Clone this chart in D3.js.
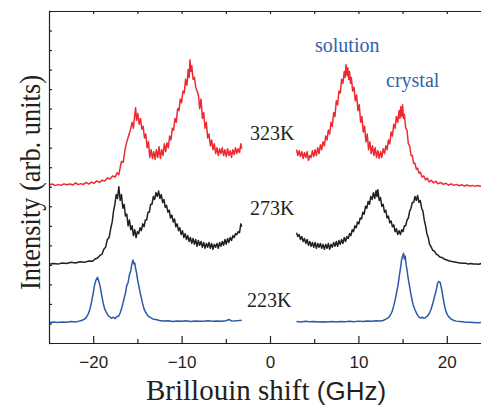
<!DOCTYPE html>
<html>
<head>
<meta charset="utf-8">
<script src="https://cdn.jsdelivr.net/npm/d3@7"></script>
<style>
  body { margin: 0; background: #fff; }
  svg { display: block; }
</style>
</head>
<body>
<div id="chart"></div>
<script>
// spectra: [shift (GHz), intensity (arb. units)]
var red323Left = [[-25,8.09],[-24.6,8.14],[-24.3,8.06],[-24,8.11],[-23.6,8.08],[-23.3,8.15],[-23,8.1],[-22.6,8.14],[-22.3,8.09],[-22,8.2],[-21.7,8.11],[-21.4,8.16],[-21.1,8.12],[-20.8,8.22],[-20.5,8.14],[-20.2,8.24],[-19.9,8.18],[-19.6,8.3],[-19.3,8.22],[-19,8.33],[-18.7,8.3],[-18.4,8.45],[-18.1,8.4],[-17.8,8.55],[-17.5,8.5],[-17.3,8.72],[-17.1,8.62],[-16.9,9.1],[-16.8,9.3],[-16.6,9.25],[-16.4,9.9],[-16.2,10.3],[-16,10.6],[-15.8,10.9],[-15.6,11.3],[-15.45,11],[-15.3,11.7],[-15.2,12.05],[-15.1,11.4],[-14.95,11.75],[-14.8,11.2],[-14.65,11.5],[-14.5,10.95],[-14.35,11.1],[-14.2,10.5],[-14.05,10.7],[-13.9,10],[-13.75,10.3],[-13.6,9.5],[-13.45,9.9],[-13.3,9.45],[-13.15,9.8],[-13,9.4],[-12.85,9.9],[-12.7,9.5],[-12.55,10.05],[-12.4,9.45],[-12.25,9.9],[-12.1,9.6],[-11.95,10.2],[-11.8,9.8],[-11.65,10.25],[-11.5,10],[-11.35,10.6],[-11.2,10.4],[-11.05,11],[-10.9,10.9],[-10.75,11.5],[-10.6,11.3],[-10.45,12],[-10.3,11.9],[-10.15,12.5],[-10,12.3],[-9.85,12.9],[-9.7,12.8],[-9.55,13.5],[-9.4,13.2],[-9.25,14],[-9.15,13.6],[-9.05,14.5],[-8.95,13.9],[-8.85,14.2],[-8.7,13.5],[-8.55,13.6],[-8.4,13.1],[-8.25,12.9],[-8.1,12.7],[-7.95,12],[-7.8,12.5],[-7.65,11.5],[-7.5,11.8],[-7.35,11],[-7.2,11.3],[-7.05,10.5],[-6.9,10.7],[-6.75,10.1],[-6.6,10.4],[-6.45,9.9],[-6.3,10.2],[-6.15,9.7],[-6,10],[-5.85,9.6],[-5.7,9.95],[-5.55,9.7],[-5.4,10],[-5.25,9.6],[-5.1,9.9],[-4.95,9.55],[-4.8,9.95],[-4.65,9.6],[-4.5,9.85],[-4.35,9.5],[-4.2,9.9],[-4.05,9.65],[-3.9,10],[-3.75,9.7],[-3.6,9.95],[-3.45,9.75],[-3.3,10.2],[-3.2,9.95]];
var red323Right = [[3,9.9],[3.15,9.6],[3.3,9.85],[3.45,9.55],[3.6,9.8],[3.75,9.45],[3.9,9.75],[4.05,9.5],[4.2,9.8],[4.35,9.35],[4.5,9.6],[4.65,9.5],[4.8,9.85],[4.95,9.55],[5.1,9.9],[5.25,9.6],[5.4,10],[5.55,9.7],[5.7,10.15],[5.85,9.9],[6,10.3],[6.15,10.1],[6.3,10.6],[6.45,10.4],[6.6,10.9],[6.75,10.7],[6.9,11.3],[7.05,11.1],[7.2,11.8],[7.35,11.6],[7.5,12.4],[7.65,12.2],[7.8,12.9],[7.95,12.8],[8.1,13.5],[8.25,13.3],[8.4,13.9],[8.5,13.6],[8.6,14.25],[8.7,13.7],[8.8,14.1],[8.9,13.5],[9,13.9],[9.1,13.3],[9.2,13.6],[9.35,12.9],[9.5,13.1],[9.65,12.4],[9.8,12.7],[9.95,11.9],[10.1,12.2],[10.25,11.3],[10.4,11.6],[10.55,10.8],[10.7,11.1],[10.85,10.3],[11,10.7],[11.15,9.9],[11.3,10.3],[11.45,9.7],[11.6,10.1],[11.75,9.6],[11.9,10],[12.05,9.5],[12.2,9.85],[12.35,9.45],[12.5,9.8],[12.65,9.5],[12.8,9.95],[12.95,9.7],[13.1,10.1],[13.25,9.9],[13.4,10.4],[13.55,10.2],[13.7,10.8],[13.85,10.6],[14,11.2],[14.15,11],[14.3,11.6],[14.45,11.3],[14.6,11.9],[14.7,11.5],[14.8,12.1],[14.9,11.6],[15,12.2],[15.1,11.5],[15.2,11.7],[15.35,11],[15.5,10.9],[15.65,10.2],[15.8,10.1],[15.95,9.6],[16.1,9.6],[16.25,9.2],[16.4,9.2],[16.55,8.9],[16.7,8.95],[16.85,8.7],[17,8.75],[17.2,8.5],[17.4,8.55],[17.6,8.35],[17.8,8.45],[18,8.25],[18.25,8.33],[18.5,8.2],[18.75,8.28],[19,8.15],[19.3,8.22],[19.6,8.12],[19.9,8.18],[20.2,8.08],[20.5,8.15],[20.8,8.07],[21.1,8.12],[21.4,8.05],[21.7,8.1],[22,8.04],[22.3,8.09],[22.6,8.03],[22.9,8.07],[23.2,8.02],[23.5,8.06],[23.8,8.03],[24.2,8.05],[25,8.03]];
var black273Left = [[-25,4.03],[-24.5,4.07],[-24,4.04],[-23.5,4.1],[-23,4.07],[-22.5,4.13],[-22,4.1],[-21.5,4.16],[-21,4.13],[-20.5,4.2],[-20.1,4.18],[-19.8,4.3],[-19.5,4.35],[-19.2,4.5],[-19,4.55],[-18.8,4.8],[-18.6,4.9],[-18.4,5.3],[-18.2,5.4],[-18,5.9],[-17.85,6.2],[-17.7,6.75],[-17.55,7.1],[-17.4,7.6],[-17.25,7.4],[-17.1,8],[-16.95,7.3],[-16.8,7.6],[-16.65,6.9],[-16.5,7.1],[-16.35,6.5],[-16.2,6.6],[-16.05,6],[-15.9,6.3],[-15.75,5.8],[-15.6,6],[-15.45,5.5],[-15.3,5.8],[-15.15,5.4],[-15,5.7],[-14.85,5.6],[-14.7,5.9],[-14.55,5.75],[-14.4,6.1],[-14.25,5.95],[-14.1,6.3],[-13.95,6.3],[-13.8,6.7],[-13.65,6.7],[-13.5,7.1],[-13.35,7.1],[-13.2,7.5],[-13.05,7.35],[-12.9,7.7],[-12.75,7.5],[-12.6,7.78],[-12.45,7.4],[-12.3,7.6],[-12.15,7.2],[-12,7.35],[-11.85,6.95],[-11.7,7.05],[-11.55,6.7],[-11.4,6.8],[-11.25,6.4],[-11.1,6.55],[-10.95,6.2],[-10.8,6.35],[-10.65,5.95],[-10.5,6.1],[-10.35,5.75],[-10.2,5.9],[-10.05,5.55],[-9.9,5.75],[-9.75,5.4],[-9.6,5.6],[-9.45,5.3],[-9.3,5.5],[-9.15,5.2],[-9,5.4],[-8.85,5.1],[-8.7,5.35],[-8.55,5.05],[-8.4,5.3],[-8.25,4.95],[-8.1,5.25],[-7.95,5],[-7.8,5.2],[-7.65,4.9],[-7.5,5.15],[-7.35,4.85],[-7.2,5.1],[-7.05,4.9],[-6.9,5.15],[-6.75,4.85],[-6.6,5.1],[-6.45,4.8],[-6.3,5.05],[-6.15,4.9],[-6,5.1],[-5.85,4.85],[-5.7,5.15],[-5.55,4.95],[-5.4,5.2],[-5.25,5],[-5.1,5.3],[-4.95,5.05],[-4.8,5.35],[-4.65,5.15],[-4.5,5.4],[-4.35,5.25],[-4.2,5.5],[-4.05,5.4],[-3.9,5.6],[-3.75,5.55],[-3.6,5.7],[-3.45,5.65],[-3.3,6.1],[-3.2,5.95]];
var black273Right = [[3,5.65],[3.15,5.45],[3.3,5.55],[3.45,5.3],[3.6,5.45],[3.75,5.2],[3.9,5.35],[4.05,5.1],[4.2,5.3],[4.35,5],[4.5,5.2],[4.65,4.95],[4.8,5.15],[4.95,4.9],[5.1,5.15],[5.25,4.85],[5.4,5.1],[5.55,4.9],[5.7,5.1],[5.85,4.85],[6,5.05],[6.15,4.8],[6.3,5.05],[6.45,4.85],[6.6,5.1],[6.75,4.8],[6.9,5.05],[7.05,4.9],[7.2,5.15],[7.35,4.95],[7.5,5.2],[7.65,4.95],[7.8,5.25],[7.95,5.05],[8.1,5.3],[8.25,5.1],[8.4,5.4],[8.55,5.2],[8.7,5.45],[8.85,5.35],[9,5.6],[9.15,5.5],[9.3,5.8],[9.45,5.7],[9.6,6],[9.75,5.9],[9.9,6.2],[10.05,6.1],[10.2,6.4],[10.35,6.35],[10.5,6.7],[10.65,6.6],[10.8,7],[10.95,6.9],[11.1,7.25],[11.25,7.1],[11.4,7.5],[11.55,7.35],[11.7,7.7],[11.85,7.4],[12,7.8],[12.1,7.5],[12.2,7.85],[12.35,7.3],[12.5,7.45],[12.65,7],[12.8,7.1],[12.95,6.7],[13.1,6.8],[13.25,6.4],[13.4,6.5],[13.55,6.15],[13.7,6.25],[13.85,5.95],[14,6.05],[14.15,5.7],[14.3,5.85],[14.45,5.55],[14.6,5.75],[14.75,5.55],[14.9,5.8],[15.05,5.7],[15.2,6],[15.35,6],[15.5,6.3],[15.65,6.4],[15.8,6.75],[15.95,6.9],[16.1,7.2],[16.25,7.2],[16.4,7.5],[16.55,7.3],[16.7,7.55],[16.85,7.2],[17,7.3],[17.15,6.9],[17.3,6.75],[17.45,6.3],[17.6,6],[17.75,5.6],[17.9,5.4],[18.05,5.05],[18.2,4.95],[18.4,4.75],[18.6,4.7],[18.8,4.55],[19,4.5],[19.2,4.4],[19.45,4.38],[19.7,4.3],[20,4.25],[20.3,4.2],[20.6,4.17],[20.9,4.15],[21.2,4.12],[21.5,4.1],[21.8,4.08],[22.1,4.09],[22.4,4.05],[22.7,4.07],[23,4.04],[23.3,4.05],[23.6,4.03],[24,4.08],[25,4.05]];
var blue223Left = [[-25,1.04],[-24.5,1.07],[-24,1.05],[-23.5,1.08],[-23,1.06],[-22.5,1.1],[-22,1.08],[-21.6,1.12],[-21.3,1.15],[-21,1.22],[-20.8,1.3],[-20.6,1.45],[-20.45,1.62],[-20.3,1.85],[-20.15,2.2],[-20,2.55],[-19.85,2.95],[-19.7,3.2],[-19.6,3.3],[-19.5,3.36],[-19.4,3.2],[-19.3,3.05],[-19.2,2.85],[-19.1,2.6],[-19,2.35],[-18.85,2],[-18.7,1.75],[-18.5,1.55],[-18.3,1.4],[-18.1,1.33],[-17.9,1.27],[-17.7,1.32],[-17.5,1.25],[-17.3,1.36],[-17.1,1.38],[-16.95,1.55],[-16.8,1.75],[-16.65,2],[-16.5,2.3],[-16.35,2.55],[-16.2,2.95],[-16.05,3.1],[-15.9,3.5],[-15.75,3.7],[-15.6,4.1],[-15.5,4.25],[-15.4,4.05],[-15.3,4.1],[-15.2,3.8],[-15.1,3.6],[-15,3.3],[-14.85,2.95],[-14.7,2.6],[-14.55,2.3],[-14.4,2],[-14.25,1.75],[-14.1,1.6],[-13.9,1.45],[-13.7,1.35],[-13.5,1.3],[-13.2,1.22],[-12.9,1.2],[-12.5,1.15],[-12.1,1.13],[-11.5,1.14],[-11,1.1],[-10.5,1.13],[-10,1.11],[-9.5,1.14],[-9,1.1],[-8.5,1.13],[-8,1.12],[-7.5,1.11],[-7,1.14],[-6.5,1.12],[-6,1.13],[-5.5,1.11],[-5,1.14],[-4.6,1.2],[-4.3,1.12],[-3.8,1.14],[-3.5,1.15],[-3.2,1.17]];
var blue223Right = [[3,1.1],[3.5,1.08],[4,1.11],[4.5,1.09],[5,1.1],[5.5,1.07],[6,1.09],[6.5,1.08],[7,1.1],[7.5,1.08],[8,1.1],[8.5,1.09],[9,1.11],[9.5,1.09],[10,1.12],[10.5,1.1],[11,1.13],[11.5,1.11],[12,1.14],[12.4,1.13],[12.8,1.15],[13.1,1.22],[13.4,1.3],[13.6,1.42],[13.8,1.6],[14,1.9],[14.2,2.3],[14.35,2.65],[14.5,3],[14.65,3.5],[14.8,3.95],[14.9,4.3],[15,4.45],[15.1,4.6],[15.2,4.3],[15.3,4.45],[15.4,4],[15.5,3.75],[15.6,3.4],[15.75,3],[15.9,2.6],[16.05,2.25],[16.2,1.95],[16.4,1.7],[16.6,1.5],[16.8,1.35],[17,1.28],[17.2,1.32],[17.4,1.26],[17.6,1.3],[17.8,1.38],[18,1.5],[18.2,1.7],[18.4,2],[18.6,2.35],[18.8,2.7],[18.95,3.05],[19.1,3.15],[19.25,3.1],[19.4,2.8],[19.55,2.4],[19.7,2],[19.85,1.7],[20,1.5],[20.2,1.35],[20.5,1.22],[20.8,1.15],[21.1,1.12],[21.5,1.1],[22,1.07],[22.5,1.06],[23,1.05],[23.5,1.04],[24,1.05],[25,1.04]];

var xMajorTicks = [-20, -10, 0, 10, 20];
var xMinorTicks = [-15, -5, 5, 15];
var yTicks = d3.range(0, 18);
var tempLabels = ["323K", "273K", "223K"];
var peakLabels = ["solution", "crystal"];

function init() {
    var w = 481;
    var h = 408;
    var left = 49, right = 491, top = 11, bottom = 343;

    var xScale = d3.scaleLinear()
                .domain([-25, 25])
                .range([left, right]);

    var yScale = d3.scaleLinear()
                .domain([0, 17])
                .range([bottom, top]);

    var svg = d3.select("#chart")
                .append("svg")
                .attr("width", w)
                .attr("height", h);

    var axisColor = "#231f20";

    // traces
    var line = d3.line()
                .x(function(d) { return xScale(d[0]); })
                .y(function(d) { return yScale(d[1]); });

    var traces = [
        { data: red323Left, color: "#ec2a30" },
        { data: red323Right, color: "#ec2a30" },
        { data: black273Left, color: "#231f20" },
        { data: black273Right, color: "#231f20" },
        { data: blue223Left, color: "#2b5ba8" },
        { data: blue223Right, color: "#2b5ba8" }
    ];

    svg.selectAll("path.trace")
        .data(traces)
        .enter()
        .append("path")
        .attr("class", "trace")
        .attr("d", function(d) { return line(d.data); })
        .attr("fill", "none")
        .attr("stroke", function(d) { return d.color; })
        .attr("stroke-width", 1.5)
        .attr("stroke-linejoin", "round");

    // bottom axis, ticks pointing in
    var gBottom = svg.append("g")
        .attr("transform", "translate(0," + bottom + ")")
        .call(d3.axisBottom(xScale)
            .tickValues(xMajorTicks)
            .tickSizeInner(-7)
            .tickSizeOuter(0)
            .tickPadding(13)
            .tickFormat(function(d) { return d < 0 ? "\u2212" + Math.abs(d) : d; }));

    svg.append("g")
        .attr("transform", "translate(0," + bottom + ")")
        .call(d3.axisBottom(xScale)
            .tickValues(xMinorTicks)
            .tickSizeInner(-4)
            .tickSizeOuter(0)
            .tickFormat(""));

    svg.append("g")
        .attr("transform", "translate(0," + top + ")")
        .call(d3.axisTop(xScale)
            .tickValues(xMajorTicks.concat(xMinorTicks))
            .tickSizeInner(-3)
            .tickSizeOuter(0)
            .tickFormat(""));

    svg.append("g")
        .attr("transform", "translate(" + left + ",0)")
        .call(d3.axisLeft(yScale)
            .tickValues(yTicks)
            .tickSizeInner(-3)
            .tickSizeOuter(0)
            .tickFormat(""));

    svg.selectAll(".domain, .tick line")
        .attr("stroke", axisColor)
        .attr("stroke-width", 1.2);

    gBottom.selectAll("text")
        .attr("font-family", "'Liberation Sans', Arial, sans-serif")
        .attr("font-size", 17)
        .attr("fill", axisColor);

    // temperature labels
    var tempPos = [[250, 140], [250, 215], [247, 307]];
    svg.selectAll("text.temp")
        .data(tempLabels)
        .enter()
        .append("text")
        .attr("class", "temp")
        .attr("x", function(d, i) { return tempPos[i][0]; })
        .attr("y", function(d, i) { return tempPos[i][1]; })
        .attr("font-family", "'Liberation Serif', 'Times New Roman', serif")
        .attr("font-size", 20)
        .attr("fill", axisColor)
        .text(function(d) { return d; });

    var peakPos = [[315, 52], [386, 87]];
    svg.selectAll("text.peak")
        .data(peakLabels)
        .enter()
        .append("text")
        .attr("class", "peak")
        .attr("x", function(d, i) { return peakPos[i][0]; })
        .attr("y", function(d, i) { return peakPos[i][1]; })
        .attr("font-family", "'Liberation Serif', 'Times New Roman', serif")
        .attr("font-size", 20)
        .attr("fill", "#2f62b0")
        .text(function(d) { return d; });

    // axis titles
    var xt = svg.append("text")
        .attr("x", 146)
        .attr("y", 400)
        .attr("fill", axisColor);
    xt.append("tspan")
        .attr("font-family", "'Liberation Serif', 'Times New Roman', serif")
        .attr("font-size", 29)
        .text("Brillouin shift ");
    xt.append("tspan")
        .attr("font-family", "'Liberation Sans', Arial, sans-serif")
        .attr("font-size", 26)
        .text("(GHz)");

    svg.append("text")
        .attr("transform", "translate(40," + ((75 + 290) / 2) + ") rotate(-90)")
        .attr("text-anchor", "middle")
        .attr("font-family", "'Liberation Serif', 'Times New Roman', serif")
        .attr("font-size", 29)
        .attr("textLength", 215)
        .attr("lengthAdjust", "spacingAndGlyphs")
        .attr("fill", axisColor)
        .text("Intensity (arb. units)");
}

window.onload = init;
</script>
</body>
</html>
